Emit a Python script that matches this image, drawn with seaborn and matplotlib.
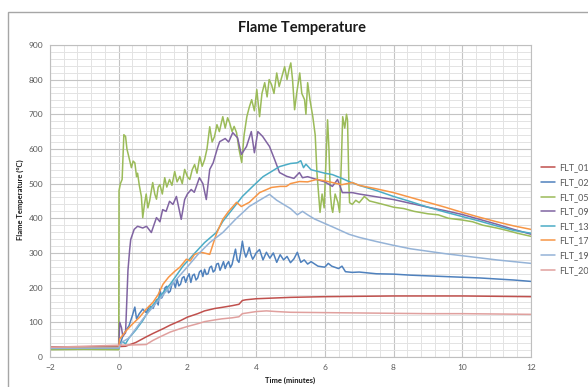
import numpy as np
import pandas as pd
import seaborn as sns
import matplotlib.pyplot as plt
from matplotlib.patches import Rectangle
from matplotlib.ticker import MultipleLocator

# time (minutes) and flame temperature (degC), one pair of lists per flight
t_01 = [-2, 0, 0.2, 0.5, 0.8, 1.0, 1.3, 1.5, 1.8, 2.0, 2.3, 2.5, 2.8, 3.0, 3.3, 3.5, 3.6, 3.7, 4.0, 4.5, 5, 6, 7, 8, 9, 10, 11, 12]
v_01 = [29, 30, 31, 42, 58, 68, 82, 92, 105, 115, 125, 133, 140, 143, 148, 152, 163, 165, 168, 170, 172, 174, 175, 176, 176, 176, 175, 174]

t_02 = [-2, 0, 0.05, 0.12, 0.2, 0.3, 0.4, 0.47, 0.52, 0.6, 0.7, 0.8, 0.9,
        1.0, 1.05, 1.1, 1.15, 1.2, 1.25, 1.3, 1.35, 1.4, 1.45, 1.5, 1.55, 1.6, 1.65, 1.7, 1.75, 1.8, 1.85,
        1.9, 1.95, 2.0, 2.05, 2.1, 2.15, 2.2, 2.25, 2.3, 2.35, 2.4, 2.45, 2.5, 2.55, 2.6, 2.65, 2.7, 2.75,
        2.8, 2.85, 2.9, 2.95, 3.0, 3.05, 3.1, 3.15, 3.2, 3.25, 3.3, 3.35, 3.4, 3.45, 3.5, 3.55, 3.6, 3.65,
        3.7, 3.75, 3.8, 3.85, 3.9, 3.95, 4.0,
        4.1, 4.2, 4.3, 4.4, 4.5, 4.6, 4.7, 4.8, 4.9, 5.0, 5.1, 5.2, 5.3, 5.4, 5.5, 5.6,
        5.8, 6.0, 6.1, 6.2, 6.4, 6.5, 6.6, 6.8, 7.0, 7.5, 8.0, 8.5, 9.0, 9.5, 10, 10.5, 11, 11.5, 12]
v_02 = [27, 28, 40, 60, 75, 90, 120, 144, 110, 125, 138, 128, 147,
        140, 152, 165, 150, 196, 170, 180, 200, 204, 185, 190, 210, 215, 200, 224, 205, 210, 228,
        232, 215, 230, 240, 215, 235, 239, 222, 228, 245, 250, 232, 253, 238, 240, 258, 262, 245,
        250, 268, 270, 250, 262, 275, 255, 268, 275, 258, 267, 290, 311, 280, 273, 300, 334, 305,
        288, 300, 316, 295, 282, 290, 300,
        310, 280, 302, 285, 300, 273, 295, 280, 290, 272, 283, 302, 273, 280, 268, 275,
        262, 259, 270, 262, 255, 262, 246, 244, 245, 240, 239, 236, 234, 232, 230, 228, 225, 222, 218]

t_05 = [-2.0, -1.0, 0.0, 0.01, 0.05, 0.1, 0.15, 0.2, 0.24, 0.3, 0.37, 0.42, 0.47, 0.52, 0.55, 0.6, 0.66, 0.7,
        0.75, 0.8, 0.85, 0.9, 0.95, 0.99, 1.05, 1.1, 1.15, 1.2, 1.27, 1.34, 1.4, 1.48, 1.55, 1.63, 1.7, 1.78,
        1.85, 1.92, 2.0, 2.07, 2.14, 2.21, 2.28, 2.36, 2.43, 2.5, 2.57, 2.65, 2.72, 2.79, 2.86, 2.93, 3.03,
        3.1, 3.17, 3.23, 3.3, 3.36, 3.43, 3.5, 3.58, 3.65, 3.73, 3.8, 3.87, 3.95, 4.02, 4.1, 4.17, 4.25, 4.32,
        4.38, 4.45, 4.52, 4.6, 4.67, 4.75, 4.83, 4.9, 4.96, 5.01, 5.06, 5.12, 5.18, 5.27, 5.33, 5.41, 5.45,
        5.5, 5.57, 5.65, 5.72, 5.77, 5.82, 5.86, 5.92, 5.98, 6.03, 6.08, 6.12, 6.16, 6.2, 6.23, 6.3, 6.38,
        6.43, 6.48, 6.52, 6.58, 6.63, 6.66, 6.7, 6.72, 6.8, 6.9, 7.0, 7.15, 7.3, 7.5, 7.7, 8.0, 8.3, 8.6,
        9.0, 9.3, 9.6, 10.0, 10.3, 10.6, 11.0, 11.3, 11.6, 12.0]
v_05 = [21, 22, 21, 480, 500, 512, 641, 636, 600, 575, 546, 565, 560, 520, 530, 495, 463, 402,
        440, 470, 430, 450, 480, 503, 470, 455, 490, 497, 470, 517, 490, 512, 495, 535, 505, 521,
        500, 541, 520, 512, 540, 555, 530, 578, 550, 569, 600, 664, 620, 636, 670, 650, 693,
        660, 690, 675, 650, 665, 647, 600, 561, 640, 693, 720, 742, 710, 771, 693, 760, 791, 750,
        800, 785, 760, 819, 780, 808, 837, 800, 830, 848, 800, 713, 760, 819, 760, 742, 700,
        791, 740, 693, 640, 532, 470, 417, 470, 430, 560, 684, 600, 470, 430, 417, 470, 446,
        417, 560, 693, 660, 700, 684, 500, 445, 440, 452, 445, 463, 450, 445, 440, 432, 428, 420,
        413, 410, 400, 395, 390, 380, 372, 365, 357, 348]

t_09 = [-2, 0, 0.03, 0.08, 0.12, 0.2, 0.27, 0.32, 0.35, 0.45, 0.55, 0.7, 0.81, 0.95, 1.1, 1.2, 1.28, 1.38,
        1.48, 1.58, 1.68, 1.82, 1.92, 2.0, 2.11, 2.2, 2.35, 2.45, 2.55, 2.65, 2.75, 2.88, 2.94, 3.1, 3.2,
        3.32, 3.46, 3.57, 3.72, 3.86, 3.95, 4.05, 4.19, 4.39, 4.54, 4.68, 4.89, 5.1, 5.26, 5.35, 5.5, 5.76,
        6.0, 6.22, 6.37, 6.51, 6.8, 7.0, 7.5, 8.0, 8.5, 9.0, 9.5, 10.0, 10.5, 11.0, 11.5, 12]
v_09 = [26, 27, 100, 85, 60, 70, 250, 310, 339, 368, 377, 372, 377, 359, 402, 390, 425, 420,
        449, 440, 463, 397, 454, 470, 483, 475, 517, 500, 454, 541, 560, 604, 621, 630, 620,
        647, 632, 584, 607, 650, 589, 650, 636, 607, 569, 532, 521, 515, 532, 517, 520, 512,
        505, 492, 512, 474, 474, 470, 462, 454, 443, 432, 422, 411, 397, 383, 368, 354]

t_13 = [-2, 0, 0.1, 0.2, 0.3, 0.5, 0.7, 0.9, 1.2, 1.5, 1.87, 2.2, 2.5, 2.84, 3.03, 3.3, 3.6, 3.9, 4.2, 4.45,
        4.68, 5.0, 5.2, 5.3, 5.38, 5.45, 5.6, 5.8, 6.0, 6.22, 6.5, 6.7, 7.0, 7.5, 8.0, 8.5, 9.0, 9.5, 10,
        10.5, 11, 11.5, 12]
v_13 = [25, 26, 45, 38, 55, 78, 105, 138, 175, 210, 262, 298, 330, 359, 391, 425, 463, 492, 520, 535,
        549, 558, 560, 566, 546, 556, 540, 535, 530, 526, 515, 506, 495, 480, 463, 448, 432, 418, 405,
        392, 378, 365, 357]

t_17 = [-2, 0, 0.03, 0.22, 0.4, 0.61, 0.8, 1.0, 1.15, 1.29, 1.45, 1.63, 1.78, 1.97, 2.08, 2.21, 2.4, 2.65,
        2.84, 3.03, 3.2, 3.43, 3.57, 3.8, 4.1, 4.45, 4.7, 4.88, 5.0, 5.26, 5.5, 5.76, 6.0, 6.22, 6.5, 6.8,
        7.0, 7.5, 8.0, 8.5, 9.0, 9.5, 10, 10.5, 11, 11.5, 12]
v_17 = [26, 28, 52, 76, 95, 115, 138, 158, 180, 210, 230, 247, 259, 282, 277, 296, 302, 296,
        354, 397, 420, 446, 434, 446, 474, 489, 492, 492, 500, 506, 505, 512, 508, 503, 497, 503,
        495, 485, 474, 460, 446, 432, 417, 403, 390, 378, 368]

t_19 = [-2, 0, 0.1, 0.3, 0.7, 1.0, 1.3, 1.68, 2.0, 2.3, 2.65, 3.03, 3.4, 3.8, 4.1, 4.39, 4.6, 4.8, 5.0, 5.2,
        5.35, 5.5, 5.7, 6.0, 6.3, 6.7, 7.0, 7.5, 8.0, 8.5, 9.0, 9.5, 10, 10.5, 11, 11.5, 12]
v_19 = [25, 26, 43, 55, 109, 145, 180, 224, 260, 295, 330, 359, 397, 434, 452, 469, 452, 440, 428, 410,
        420, 410, 398, 385, 372, 354, 345, 333, 322, 312, 305, 298, 292, 286, 280, 275, 270]

t_20 = [-2, 0, 0.5, 0.8, 1.0, 1.2, 1.5, 1.8, 2.0, 2.3, 2.5, 2.8, 3.0, 3.3, 3.5, 3.6, 3.8, 4.0, 4.3, 4.6, 5, 6, 7, 8, 9, 10, 11, 12]
v_20 = [28, 34, 35, 36, 48, 58, 72, 82, 88, 96, 102, 107, 110, 113, 116, 125, 128, 131, 133, 131, 129, 128, 127, 126, 125, 125, 124, 123]

names = ['FLT_01', 'FLT_02', 'FLT_05', 'FLT_09', 'FLT_13', 'FLT_17', 'FLT_19', 'FLT_20']
times = [t_01, t_02, t_05, t_09, t_13, t_17, t_19, t_20]
temps = [v_01, v_02, v_05, v_09, v_13, v_17, v_19, v_20]
colors = ['#C0504D', '#4F81BD', '#9BBB59', '#8064A2', '#4BACC6', '#F79646', '#95B3D7', '#E0A09E']

df = pd.concat([pd.DataFrame({'t': t, 'T': v, 'series': n}) for n, t, v in zip(names, times, temps)],
               ignore_index=True)

sns.set_style('white')
plt.rcParams['font.family'] = ['Lato', 'DejaVu Sans']

fig, ax = plt.subplots(figsize=(5.88, 3.87), dpi=100)
fig.subplots_adjust(left=0.085, right=0.903, bottom=0.0775, top=0.884)

sns.lineplot(data=df, x='t', y='T', hue='series', palette=dict(zip(names, colors)),
             sort=False, estimator=None, lw=1.1, ax=ax)

ax.set_xlim(-2, 12)
ax.set_ylim(0, 900)
ax.xaxis.set_major_locator(MultipleLocator(2))
ax.xaxis.set_minor_locator(MultipleLocator(0.4))
ax.yaxis.set_major_locator(MultipleLocator(100))
ax.yaxis.set_minor_locator(MultipleLocator(20))
ax.grid(which='major', color='#C4C4C4', lw=0.8)
ax.grid(which='minor', color='#E3E3E3', lw=0.7)
ax.set_axisbelow(True)
for s in ax.spines.values():
    s.set_color('#BFBFBF')
    s.set_linewidth(0.8)
ax.tick_params(which='both', length=0, labelsize=6, labelcolor='#595959', pad=5)
ax.set_xlabel('')
ax.set_ylabel('')

fig.text(0.514, 0.928, 'Flame Temperature', ha='center', va='center', fontsize=10.5, fontweight='bold', color='#1a1a1a')
fig.text(0.034, 0.483, 'Flame Temperature (°C)', rotation=90, ha='center', va='center', fontsize=5.5,
         fontweight='bold', color='#1a1a1a')
fig.text(0.493, 0.016, 'Time (minutes)', ha='center', va='center', fontsize=5.5, fontweight='bold', color='#1a1a1a')

sns.move_legend(ax, 'upper left', bbox_to_anchor=(1.02, 0.62), frameon=False, title=None,
                fontsize=6.5, handlelength=1.6, labelspacing=0.62, borderaxespad=0, borderpad=0,
                handletextpad=0.5)
for txt in ax.get_legend().get_texts():
    txt.set_color('#595959')

fig.patches.append(Rectangle((8 / 588, -0.1), 1.0, 1.1 - 12 / 387, transform=fig.transFigure,
                             fill=False, edgecolor='#A6A6A6', lw=1.0))

fig.savefig('out.png', dpi=100)
